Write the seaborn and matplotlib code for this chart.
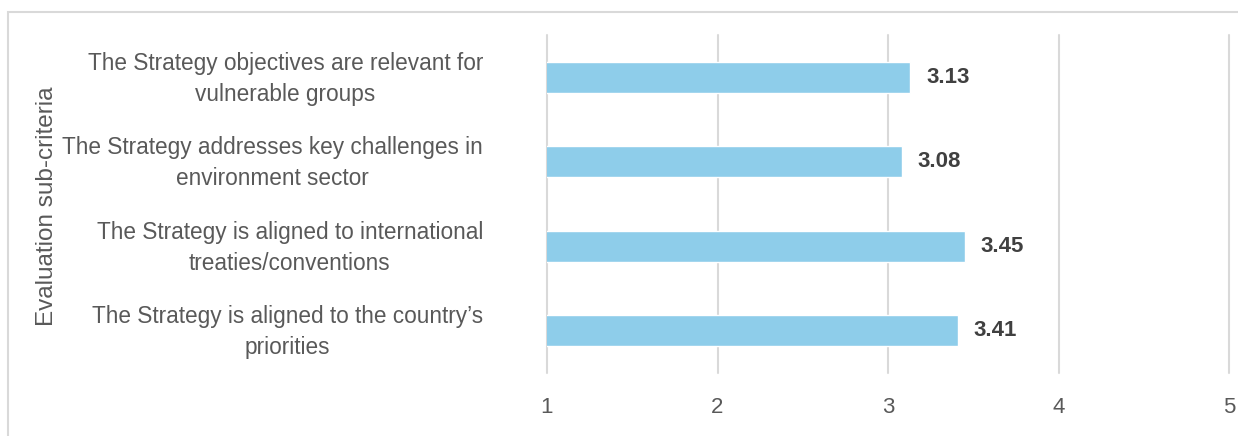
import matplotlib
matplotlib.use("Agg")
import matplotlib.pyplot as plt
import matplotlib.transforms as mtransforms
from matplotlib.patches import Rectangle
import seaborn as sns
import pandas as pd

criteria = [
    "The Strategy objectives are relevant for\nvulnerable groups",
    "The Strategy addresses key challenges in\nenvironment sector",
    "The Strategy is aligned to international\ntreaties/conventions",
    "The Strategy is aligned to the country\u2019s\npriorities",
]
scores = [3.13, 3.08, 3.45, 3.41]
x_ticks = [1, 2, 3, 4, 5]
y_title = "Evaluation sub-criteria"

BAR = "#8ecdea"
GRID = "#d9d9d9"
TEXT = "#595959"
VALUE = "#404040"

sns.set_theme(style="white")
plt.rcParams["font.family"] = ["Liberation Sans", "DejaVu Sans"]

df = pd.DataFrame({"criterion": criteria, "score": scores})

W, H = 1238, 436
fig = plt.figure(figsize=(W / 100, H / 100), dpi=100)
ax = fig.add_axes([547 / W, 1 - 373 / H, (1229 - 547) / W, (373 - 35) / H])

sns.barplot(data=df, x="score", y="criterion", orient="h", color=BAR,
            width=0.37, saturation=1, ax=ax)

ax.set_xlim(1, 5)
ax.set_xticks(x_ticks)
ax.set_xticklabels([str(t) for t in x_ticks])
ax.xaxis.grid(True, color=GRID, linewidth=1.5)
for gl in ax.get_xgridlines():
    gl.set_clip_on(False)
ax.yaxis.grid(False)
ax.set_axisbelow(True)
for s in ax.spines.values():
    s.set_visible(False)
ax.tick_params(axis="x", length=0, pad=17, labelsize=16, labelcolor=TEXT)
ax.tick_params(axis="y", length=0, pad=46, labelsize=16.3, labelcolor=TEXT)
lift = mtransforms.ScaledTranslation(0, 5 / 100, fig.dpi_scale_trans)
for lbl in ax.get_yticklabels():
    lbl.set_multialignment("center")
    lbl.set_linespacing(1.45)
    lbl.set_transform(lbl.get_transform() + lift)
ax.set_xlabel("")
ax.set_ylabel("")

for i, v in enumerate(scores):
    ax.annotate(f"{v:.2f}", xy=(v, i), xytext=(16, 0), textcoords="offset pixels",
                ha="left", va="center", fontsize=16, fontweight="bold", color=VALUE)

fig.text(47 / W, 1 - 206 / H, y_title, rotation=90, ha="center", va="center",
         fontsize=17.5, color=TEXT)

# light chart-area frame
fig.patches.append(Rectangle((8 / W, -0.1), 1.2, 1 - 12 / H + 0.1,
                             transform=fig.transFigure, fill=False,
                             edgecolor=GRID, linewidth=1.5))

fig.savefig("out.png", dpi=100)
